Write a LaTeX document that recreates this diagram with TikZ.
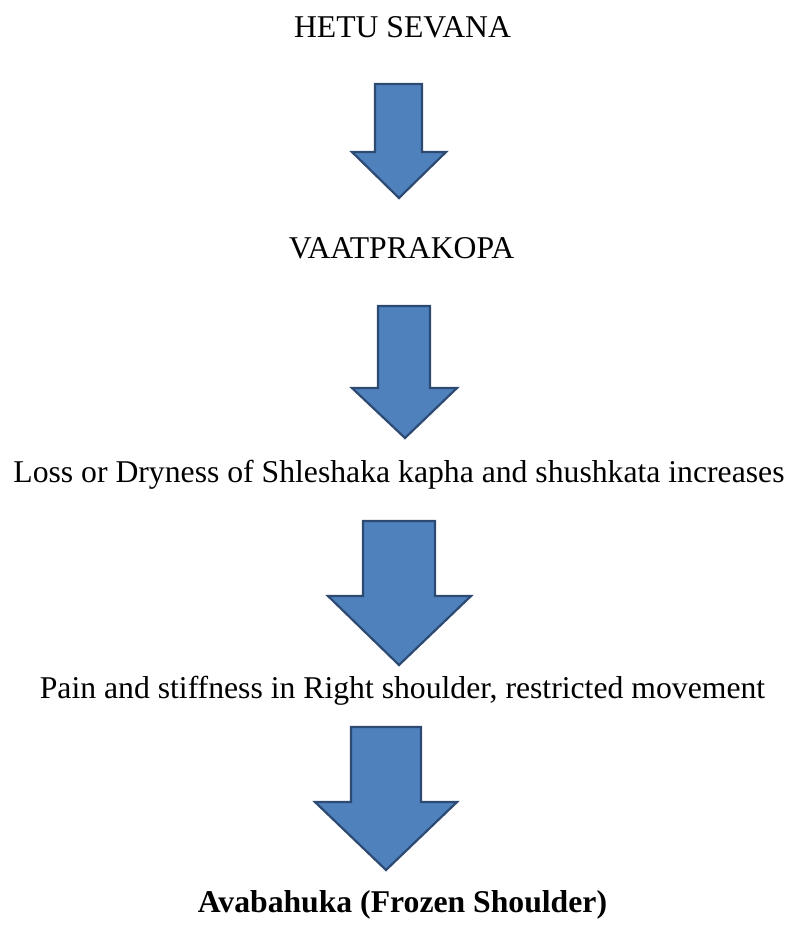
\documentclass[tikz,border=0pt]{standalone}
\usepackage{fontspec}
\setmainfont{Liberation Serif}
\definecolor{arrowfill}{HTML}{4F81BD}
\definecolor{arrowline}{HTML}{2C4A72}
\tikzset{
  lbl/.style={anchor=base, inner sep=0pt, font=\fontsize{31.7}{38}\selectfont},
  blockarrow/.style={fill=arrowfill, draw=arrowline, line width=2.2pt, line join=miter},
}
\begin{document}
\begin{tikzpicture}[x=1pt,y=-1pt]
\useasboundingbox (0,0) rectangle (793,926);
\node[lbl] (t1) at (402.5,37) {HETU SEVANA};
\node[lbl] (t2) at (401.5,258) {VAATPRAKOPA};
\node[lbl] (t3) at (399,482) {Loss or Dryness of Shleshaka kapha and shushkata increases};
\node[lbl] (t4) at (402.5,698) {Pain and stiffness in Right shoulder, restricted movement};
\node[lbl, font=\fontsize{31.7}{38}\selectfont\bfseries] (t5) at (402.5,912) {Avabahuka (Frozen Shoulder)};
\draw[blockarrow] (375,84) -- (422,84) -- (422,152) -- (446,152) -- (399,198) -- (352,152) -- (375,152) -- cycle;
\draw[blockarrow] (378,306) -- (430,306) -- (430,388) -- (457,388) -- (405,438) -- (352,388) -- (378,388) -- cycle;
\draw[blockarrow] (363,521) -- (435,521) -- (435,596) -- (471,596) -- (399,665) -- (328,596) -- (363,596) -- cycle;
\draw[blockarrow] (351,727) -- (421,727) -- (421,802) -- (457,802) -- (386,870) -- (315,802) -- (351,802) -- cycle;
\end{tikzpicture}
\end{document}
